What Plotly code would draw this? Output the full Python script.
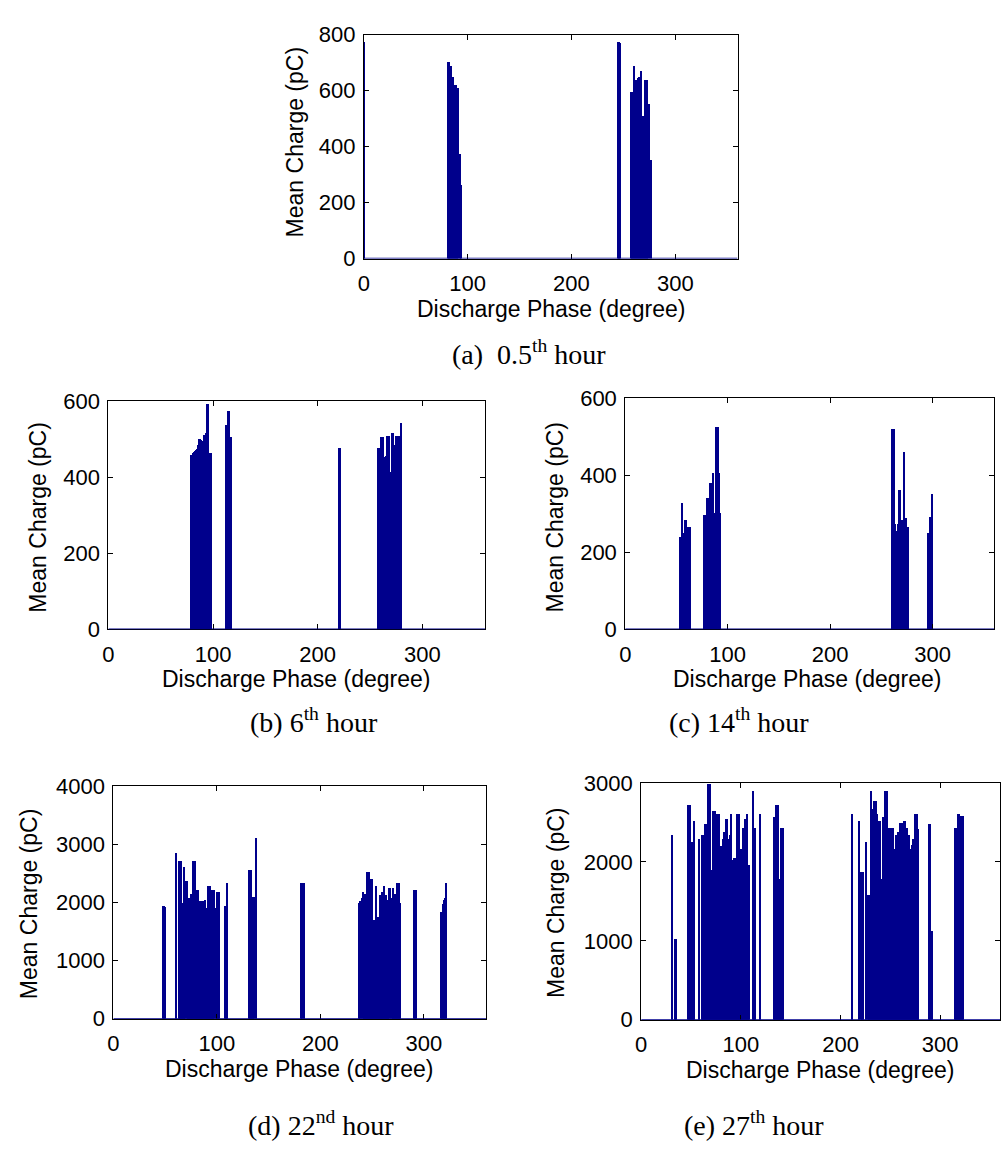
import plotly.graph_objects as go

W, H = 1001, 1156
NAVY = "rgb(0,0,140)"
SANS = "Liberation Sans, Arial, sans-serif"
SERIF = "Liberation Serif, Times New Roman, serif"

# ---------------- data (phase in degree, mean charge in pC) ----------------
phase_a = [0, 81, 82, 83, 84, 85, 86, 87, 88, 89, 90, 91, 92, 93,
           245, 246, 247,
           257, 258, 259, 260, 261, 262, 263, 264, 265, 266, 267, 268, 269, 270,
           271, 272, 273, 274, 275, 276]
charge_a = [775, 705, 705, 565, 690, 650, 650, 600, 620, 620, 612, 610, 375, 265,
            775, 775, 770,
            595, 598, 598, 690, 635, 638, 610, 648, 650, 648, 672, 510, 510, 300,
            640, 640, 638, 555, 552, 352]

phase_b = [79, 80, 81, 82, 83, 84, 85, 86, 87, 88, 89, 90, 91, 92, 93, 94, 95, 96, 97, 98,
           113, 114, 115, 116, 117, 118,
           221, 222,
           258, 259, 260, 261, 262, 263, 264, 265, 266, 267, 268, 269, 270, 271, 272,
           273, 274, 275, 276, 277, 278, 279, 280]
charge_b = [457, 457, 462, 465, 468, 472, 474, 485, 500, 500, 498, 494, 465, 511, 511, 517,
            592, 592, 463, 463,
            538, 538, 574, 574, 363, 504,
            477, 477,
            477, 477, 414, 506, 506, 506, 453, 453, 455, 508, 508, 508, 414, 517, 517,
            483, 483, 508, 508, 508, 414, 508, 541]

phase_c = [54, 55, 56, 57, 58, 59, 60, 61, 62, 63,
           77, 78, 79, 80, 81, 82, 83, 84, 85, 86, 87, 88, 89, 90, 91, 92, 93,
           261, 262, 263, 264, 265, 266, 267, 268, 269, 270, 271, 272, 273, 274, 275, 276,
           296, 297, 298, 299, 300]
charge_c = [240, 240, 328, 250, 250, 283, 283, 264, 264, 264,
            295, 295, 244, 340, 340, 262, 378, 378, 378, 406, 301, 301, 524, 524, 524, 406, 300,
            520, 520, 520, 272, 255, 272, 361, 361, 283, 283, 283, 459, 287, 287, 264, 264,
            250, 250, 291, 291, 350]

phase_d = [48, 49, 50,
           61, 64, 65, 66, 67, 68, 69, 70, 71, 72, 73, 74, 75, 76, 77, 78, 79, 80,
           81, 82, 83, 84, 85, 86, 87, 88, 89, 90, 91, 92, 93, 94, 95, 96, 97, 98,
           99, 100, 101, 102,
           108, 109, 110,
           131, 132, 133, 134, 135, 136, 138,
           182, 183, 184,
           238, 239, 240, 241, 242, 243, 244, 245, 246, 247, 248, 249, 250, 251, 252,
           253, 254, 255, 256, 257, 258, 259, 260, 261, 262, 263, 264, 265, 266, 267,
           268, 269, 270, 271, 272, 273, 274, 275, 276, 277,
           291, 292, 293,
           317, 318, 319, 320, 321, 322]
charge_d = [1940, 1940, 1930,
            2855, 2709, 2709, 2709, 1997, 1997, 2615, 2362, 2362, 2070, 2000, 2070, 2149,
            2149, 2709, 1716, 2709, 2190,
            2221, 2221, 2026, 2026, 2026, 2026, 2026, 2026, 2050, 1902, 1902, 2278, 2278,
            2278, 2070, 2211, 2211, 2211,
            1900, 2182, 2182, 2182,
            1941, 1941, 2334,
            2557, 2557, 2557, 2093, 2093, 2093, 3103,
            2334, 2334, 2334,
            1997, 2030, 2070, 2182, 1716, 2149, 2149, 2531, 2531, 2531, 2401, 2401, 2401,
            1269, 1700, 1700, 2285, 1745, 1745, 1745, 2130, 2130, 2182, 2182, 2290, 2135,
            2135, 2050, 2050, 2250, 2250, 2080, 2250, 2070, 2149, 2149, 2340, 2340, 2340,
            1997,
            2211, 2211, 2211,
            1835, 1840, 1969, 2050, 2070, 2334]

phase_e = [31, 34, 35, 47, 48, 49, 50, 51, 52, 53, 58, 61, 62, 63, 64, 65, 66, 67, 68, 69,
           70, 71, 72, 73, 74, 75, 76, 77, 78, 79, 80, 81, 82, 83, 84, 85, 86, 87, 88, 89,
           90, 91, 92, 93, 94, 95, 96, 97, 98, 99, 100, 101, 102, 103, 104, 105, 106, 107,
           108, 112, 113, 114, 119,
           133, 134, 135, 136, 137, 138, 139, 140, 141, 142,
           212, 219, 221, 222, 223, 226, 228, 229, 230, 231, 232, 233, 234, 235, 236, 237,
           238, 239, 240, 241, 242, 243, 244, 245, 246, 247, 248, 249, 250, 251, 252, 253,
           254, 255, 256, 257, 258, 259, 260, 261, 262, 263, 264, 265, 266, 267, 268, 269,
           270, 271, 272, 273, 274, 275, 276, 277, 278,
           289, 290, 291, 292,
           315, 316, 317, 318, 319, 320, 321, 322, 323]
charge_e = [2346, 1021, 1021, 2720, 2720, 2720, 2247, 2247, 2247, 2515, 2296, 2346, 2346,
            2346, 2481, 2481, 2160, 2984, 2984, 2984,
            1897, 1897, 2650, 2650, 2650, 2180, 2605, 1650, 2605, 2206, 2206, 2206, 2296,
            2379, 2379, 2543, 2543, 2296, 2296, 2346,
            2605, 2021, 2021, 2049, 2049, 2049, 2605, 2605, 2605, 2160, 2160, 2160, 2432,
            2432, 2543, 2543, 2605, 1959,
            1959, 2901, 2432, 2432, 2605,
            2572, 2572, 2720, 2720, 2720, 1790, 1790, 2432, 2432, 2432,
            2605, 2515, 1873, 1873, 1873, 2247, 1584, 1584, 1584, 2901, 2667, 2667, 2770,
            2770, 2770, 2605,
            2346, 2515, 2515, 1790, 1790, 2572, 2572, 2901, 2350, 2901, 2432, 2432, 2432,
            2247, 2432, 2432,
            1960, 2160, 2346, 2346, 2379, 2379, 2493, 2493, 2493, 2160, 2515, 2515, 2432,
            2432, 2337, 2337,
            2160, 1900, 2210, 2296, 2296, 2605, 2605, 2605, 2420,
            2481, 2481, 1123, 1123,
            2432, 2432, 2432, 2605, 2605, 2100, 2585, 2585, 2585]

x_ticks = [0, 100, 200, 300]
x_title = "Discharge Phase (degree)"
y_title = "Mean Charge (pC)"
captions = ["(a)\u00a0\u00a00.5<sup>th</sup> hour", "(b) 6<sup>th</sup> hour",
            "(c) 14<sup>th</sup> hour", "(d) 22<sup>nd</sup> hour",
            "(e) 27<sup>th</sup> hour"]
y_max = [800, 600, 600, 4000, 3000]
y_step = [200, 200, 200, 1000, 1000]

# ---------------- layout geometry (pixels) ----------------
boxes = [  # left, right, top, bottom
    (360, 736, 23, 252),
    (103, 482, 398, 631),
    (623, 994, 395, 631),
    (108, 483, 791, 1029),
    (639, 1000, 788, 1030),
]
xtitle_pos = [(548, 304), (292, 682), (806, 682), (295, 1080), (819, 1081)]
ytitle_pos = [(291, 133), (32, 517), (552, 517), (23, 912), (554, 911)]
caption_pos = [(526, 348), (310, 724), (737, 724), (317, 1136), (753, 1136)]

phases = [phase_a, phase_b, phase_c, phase_d, phase_e]
charges = [charge_a, charge_b, charge_c, charge_d, charge_e]

fig = go.Figure()
annotations = []
shapes = []


def px_x(v):
    return v / W


def px_y(v):
    return 1 - v / H


for i in range(5):
    n = "" if i == 0 else str(i + 1)
    xa, ya = "x" + n, "y" + n
    fig.add_trace(go.Bar(x=phases[i], y=charges[i], width=0.95,
                         marker=dict(color=NAVY, line=dict(width=0)),
                         xaxis=xa, yaxis=ya, showlegend=False, hoverinfo="x+y"))
    l, r, t, b = boxes[i]
    common = dict(showline=True, linecolor="black", linewidth=1, mirror="ticks",
                  ticks="inside", ticklen=5, tickcolor="black", tickwidth=1,
                  showgrid=False, zeroline=False,
                  tickfont=dict(family=SANS, size=22, color="black"))
    fig.update_layout(**{
        ("xaxis" + n): dict(domain=[px_x(l), px_x(r)], range=[0, 360],
                            tickvals=x_ticks, anchor=ya, ticklabelstandoff=5, **common),
        ("yaxis" + n): dict(domain=[px_y(b), px_y(t)], range=[0, y_max[i]],
                            tick0=0, dtick=y_step[i], anchor=xa, ticklabelstandoff=3,
                            **common),
    })
    shapes.append(dict(type="line", xref=xa, yref=ya, x0=0, x1=360, y0=0, y1=0,
                       line=dict(color=NAVY, width=1.5), layer="above"))
    xt = xtitle_pos[i]
    annotations.append(dict(text=x_title, x=px_x(xt[0]), y=px_y(xt[1]), xref="paper",
                            yref="paper", xanchor="center", yanchor="middle",
                            showarrow=False, font=dict(family=SANS, size=23, color="black")))
    yt = ytitle_pos[i]
    annotations.append(dict(text=y_title, x=px_x(yt[0]), y=px_y(yt[1]), xref="paper",
                            yref="paper", xanchor="center", yanchor="middle", textangle=-90,
                            showarrow=False, font=dict(family=SANS, size=23, color="black")))
    cp = caption_pos[i]
    annotations.append(dict(text=captions[i], x=px_x(cp[0]), y=px_y(cp[1]), xref="paper",
                            yref="paper", xanchor="center", yanchor="middle",
                            showarrow=False, font=dict(family=SERIF, size=28, color="black")))

fig.update_layout(width=W, height=H, margin=dict(l=0, r=0, t=0, b=0),
                  paper_bgcolor="white", plot_bgcolor="white", bargap=0,
                  annotations=annotations, shapes=shapes)

page_fix = ("document.body.style.margin='0';"
            "document.body.style.overflow='hidden';"
            "document.documentElement.style.overflow='hidden';")
fig.write_html("out.html", post_script=page_fix,
               config={"displayModeBar": False, "responsive": False})
